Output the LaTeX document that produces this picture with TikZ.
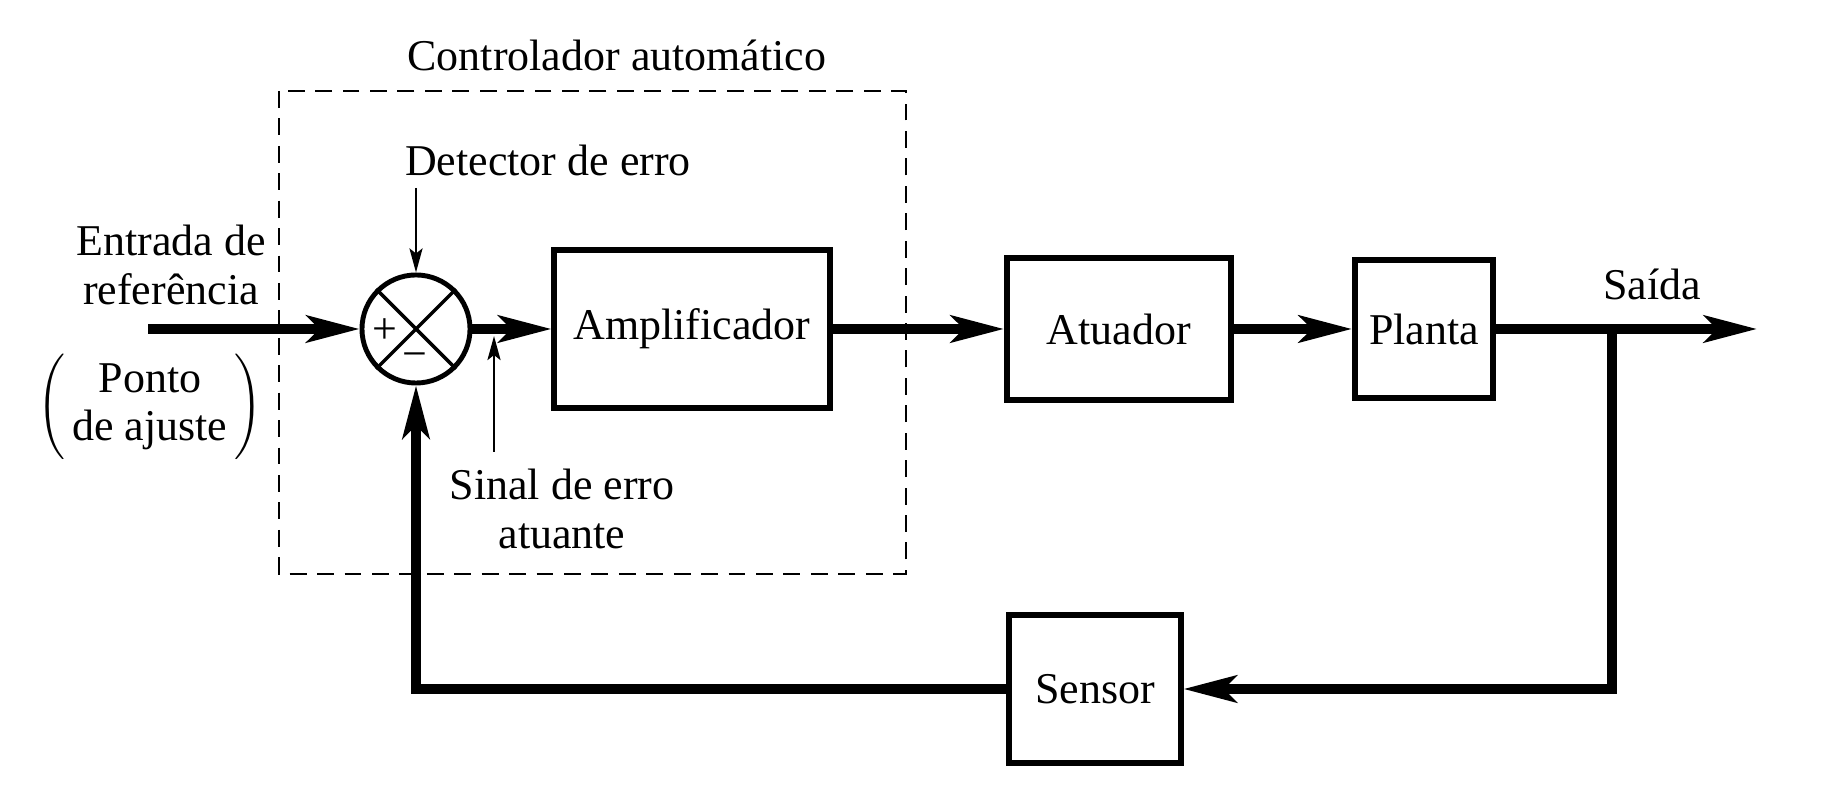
\documentclass[tikz,border=0pt]{standalone}
\usepackage{fontspec}
\setmainfont{Liberation Serif}
\usetikzlibrary{arrows.meta}
\begin{document}
\begin{tikzpicture}[x=0.01cm,y=-0.01cm,
  every node/.style={font=\fontsize{12.5}{13.7}\selectfont},
  blk/.style={draw, line width=1.7pt, inner sep=0pt},
  sig/.style={line width=2.6pt, -{Stealth[length=5.3mm,width=2.7mm,inset=1.3mm]}},
  ptr/.style={line width=0.8pt, -{Stealth[length=2.4mm,width=1.3mm,inset=0.5mm]}},
  lbl/.style={inner sep=0pt}]
\useasboundingbox (0,0) rectangle (1836,786);
% controller frame
\draw[dash pattern=on 4.8pt off 3pt, line width=0.7pt] (279,91) rectangle (906,574);
% blocks
\node[blk, minimum width=2.75cm, minimum height=1.57cm] (amp) at (692,329) {Amplificador};
\node[blk, minimum width=2.24cm, minimum height=1.41cm] (atu) at (1119,329) {Atuador};
\node[blk, minimum width=1.38cm, minimum height=1.38cm] (pla) at (1424,329) {Planta};
\node[blk, minimum width=1.71cm, minimum height=1.48cm] (sen) at (1095,689) {Sensor};
\node[circle, draw, line width=1.4pt, minimum size=1.08cm, inner sep=0pt] (sum) at (416,329) {};
\draw[line width=1pt] (sum.north west) -- (sum.south east) (sum.north east) -- (sum.south west);
\node[lbl] (plus) at (385,331) {+};
\node[lbl] (minus) at (415,361) {−};
% labels
\node[lbl, anchor=base] (ctrl) at (617,71) {Controlador automático};
\node[lbl, anchor=base] (det) at (548,176) {Detector de erro};
\node[lbl, align=center] (ent) at (171,265) {Entrada de\\referência};
\node[lbl] (pto) at (150,407) {$\left(\,\vcenter{\hbox{\begin{tabular}{@{}c@{}}Ponto\\de ajuste\end{tabular}}}\,\right)$};
\node[lbl, align=center] (sin) at (562,509) {Sinal de erro\\atuante};
\node[lbl, anchor=base] (sai) at (1652,300) {Saída};
% connectors
\coordinate (inp) at (148,329);
\coordinate (out) at (1757,329);
\coordinate (br) at (1612,329);
\coordinate (dett) at (416,188);
\coordinate (sigb) at (494,452);
\coordinate (sigt) at (494,336);
\draw[sig] (inp) -- (sum.west);
\draw[sig] (sum.east) -- (amp.west);
\draw[sig] (amp.east) -- (atu.west);
\draw[sig] (atu.east) -- (pla.west);
\draw[sig] (pla.east) -- (out);
\draw[sig] (br) |- (sen.east);
\draw[sig] (sen.west) -| (sum.south);
\draw[ptr] (dett) -- (sum.north);
\draw[ptr] (sigb) -- (sigt);
\end{tikzpicture}
\end{document}
